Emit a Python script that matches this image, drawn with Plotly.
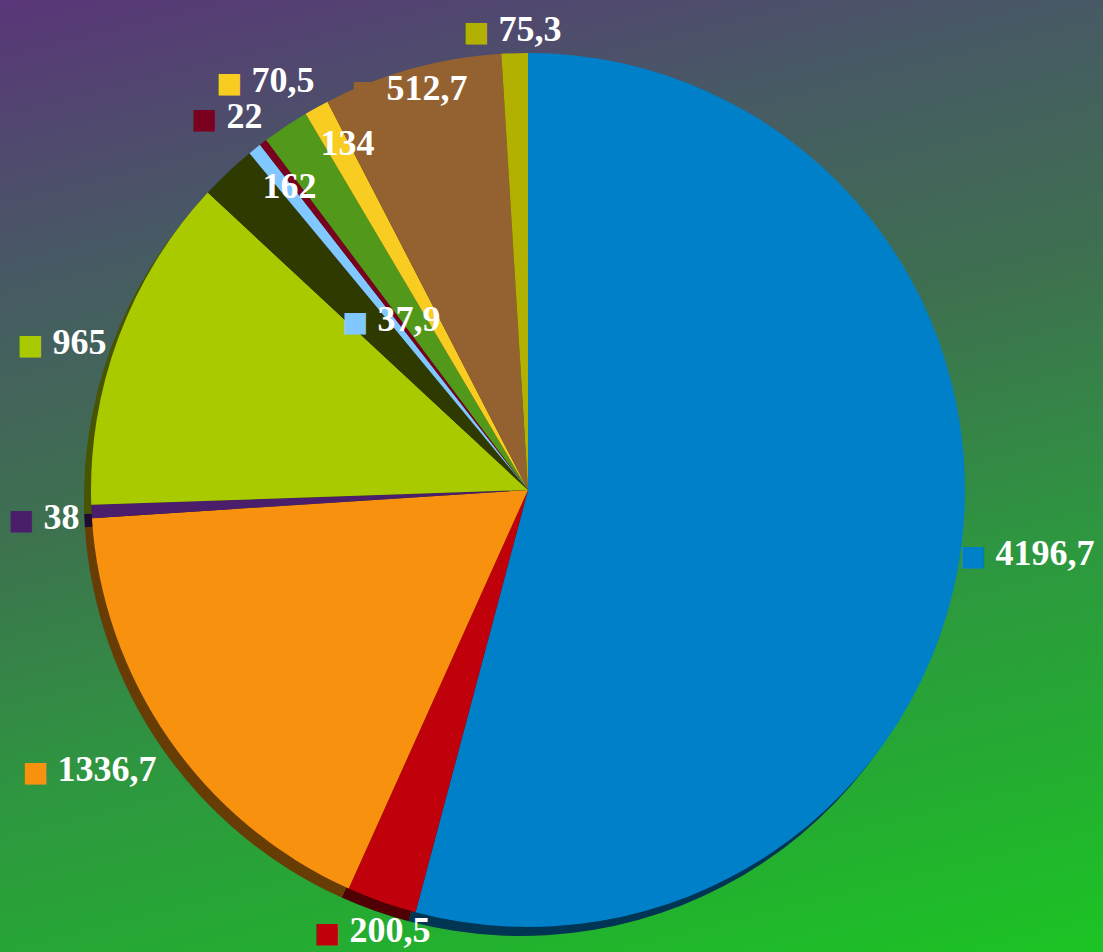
import base64
import math
import plotly.graph_objects as go

# ---- data (clockwise from 12 o'clock) ----
values = [4196.7, 200.5, 1336.7, 38, 965, 162, 37.9, 22, 134, 70.5, 512.7, 75.3]
labels = ["4196,7", "200,5", "1336,7", "38", "965", "162", "37,9", "22", "134", "70,5", "512,7", "75,3"]
colors = ["#0080C8", "#C0000A", "#F8920E", "#4A1E6A", "#AACA00", "#2E3A00",
          "#80C8FF", "#7A0020", "#52981A", "#F8CC20", "#946230", "#B2B000"]
# label placement style: radial distance (fraction of radius) and angular nudge (deg)
label_r = [1.15, 1.068, 1.19, 1.11, 1.12, 0.91, 0.50, 1.10, 0.915, 1.115, 0.96, 1.055]
label_dt = [-0.3, 0.0, 2.3, -0.4, -2.9, 3.2, 0.0, -1.6, 4.0, -3.7, -1.1, -0.25]

W, H = 1103, 952
CX, CY, R = 528, 490, 437  # pie centre / radius in px (layout)


def darken(hexc, f=0.42):
    h = hexc.lstrip("#")
    r, g, b = (int(h[i:i + 2], 16) for i in (0, 2, 4))
    return "#%02x%02x%02x" % (int(r * f), int(g * f), int(b * f))


dom_x = [(CX - R) / W, (CX + R) / W]
dom_y = [1 - (CY + R) / H, 1 - (CY - R) / H]
sx, sy = 7 / W, 9 / H

fig = go.Figure()
# 3D-like shadow rim
fig.add_trace(go.Pie(
    values=values, sort=False, direction="clockwise", rotation=0,
    marker=dict(colors=[darken(c) for c in colors], line=dict(width=0)),
    textinfo="none", hoverinfo="skip", showlegend=False,
    domain=dict(x=[dom_x[0] - sx, dom_x[1] - sx], y=[dom_y[0] - sy, dom_y[1] - sy]),
))
fig.add_trace(go.Pie(
    values=values, labels=labels, sort=False, direction="clockwise", rotation=0,
    marker=dict(colors=colors, line=dict(width=0)),
    textinfo="none", showlegend=False,
    domain=dict(x=dom_x, y=dom_y),
))

# labels at slice mid-angles
total = sum(values)
cum = 0.0
annotations = []
for v, lab, c, rf, dt in zip(values, labels, colors, label_r, label_dt):
    mid = (cum + v / 2) / total * 2 * math.pi + math.radians(dt)
    cum += v
    px = CX + rf * R * math.sin(mid)
    py = CY - rf * R * math.cos(mid)
    annotations.append(dict(
        x=px / W, y=1 - py / H, xref="paper", yref="paper",
        xanchor="center", yanchor="middle", showarrow=False,
        text=f"<span style='color:{c};font-family:DejaVu Sans;font-size:28px'>■</span> {lab}",
        font=dict(family="Liberation Serif", size=36, color="white", weight="bold"),
    ))

# gradient background
svg = f"""<svg xmlns='http://www.w3.org/2000/svg' width='{W}' height='{H}' viewBox='0 0 {W} {H}' preserveAspectRatio='none'>
<defs><linearGradient id='g' gradientUnits='userSpaceOnUse' x1='0' y1='0' x2='{0.25*1228/1.0625:.1f}' y2='{1228/1.0625:.1f}'>
<stop offset='0' stop-color='#5a3679'/>
<stop offset='0.23' stop-color='#475a64'/>
<stop offset='0.43' stop-color='#3e7050'/>
<stop offset='0.65' stop-color='#2e9640'/>
<stop offset='0.8' stop-color='#26a834'/>
<stop offset='1' stop-color='#1cc424'/>
</linearGradient></defs>
<rect width='{W}' height='{H}' fill='url(#g)'/></svg>"""
src = "data:image/svg+xml;base64," + base64.b64encode(svg.encode()).decode()

fig.update_layout(
    width=W, height=H,
    margin=dict(l=0, r=0, t=0, b=0),
    paper_bgcolor="#3e7050",
    plot_bgcolor="rgba(0,0,0,0)",
    annotations=annotations,
    images=[dict(source=src, xref="paper", yref="paper", x=0, y=1, sizex=1, sizey=1,
                 xanchor="left", yanchor="top", sizing="stretch", layer="below")],
)
fig.write_html("out.html", config={"displayModeBar": False},
               post_script="document.body.style.margin='0';document.body.style.overflow='hidden';")
